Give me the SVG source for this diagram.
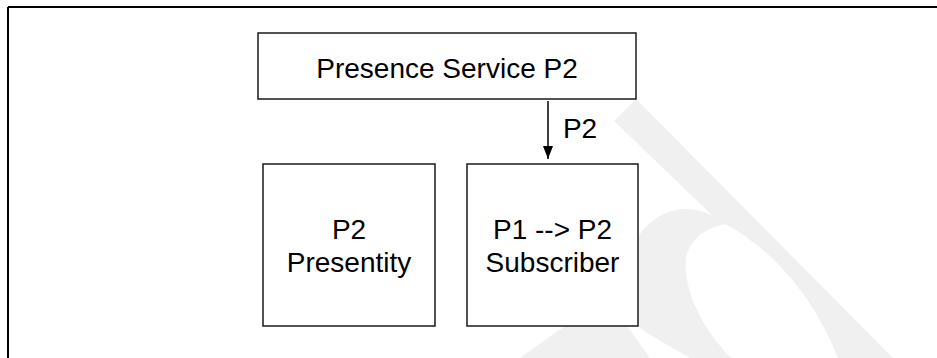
<svg xmlns="http://www.w3.org/2000/svg" width="937" height="358" viewBox="0 0 937 358">
<style>
.box{fill:#fff;stroke:#1a1a1a;stroke-width:1.5}
.t{font-family:"Liberation Sans",Arial,Helvetica,sans-serif;font-size:28px;fill:#000;text-anchor:middle}
.wm{fill:#f0f0f0;stroke:none}
.frame{stroke:#000;stroke-width:2;fill:none}
</style>
<defs>
<marker id="ah" markerWidth="13" markerHeight="10" refX="13" refY="5" orient="auto" markerUnits="userSpaceOnUse">
<path d="M0,0 L13,5 L0,10 Z" fill="#000"/>
</marker>
</defs>
<g id="watermark">
<path class="wm" d="M614,121 L636,99 L893,358 L838,358 C822,318 800,285 772,258 C752,240 735,228 717,220 Z"/>
<path class="wm" d="M639,236 C652,214 684,198 717,218 L726,224 C704,228 690,240 686,258 C683,290 702,328 731,358 L690,358 C660,340 640,330 639,326 Z"/>
<path class="wm" d="M520,358 L565,326 L627,326 L650,358 Z"/>
</g>
<g id="frame">
<line class="frame" x1="8" y1="7" x2="937" y2="7"/>
<line class="frame" x1="8" y1="7" x2="8" y2="358"/>
</g>
<g id="presence-service">
<rect class="box" x="258" y="33" width="378" height="66"/>
<text class="t" x="447" y="78">Presence Service P2</text>
</g>
<g id="presentity">
<rect class="box" x="263" y="164" width="172" height="162"/>
<text class="t" x="349" y="239">P2</text>
<text class="t" x="349" y="272">Presentity</text>
</g>
<g id="subscriber">
<rect class="box" x="467" y="164" width="171" height="162"/>
<text class="t" x="552.5" y="239">P1 --&gt; P2</text>
<text class="t" x="552.5" y="272">Subscriber</text>
</g>
<g id="connectors">
<line x1="548" y1="101" x2="548" y2="159" stroke="#000" stroke-width="1.5" marker-end="url(#ah)"/>
<text class="t" x="580" y="138">P2</text>
</g>
</svg>
